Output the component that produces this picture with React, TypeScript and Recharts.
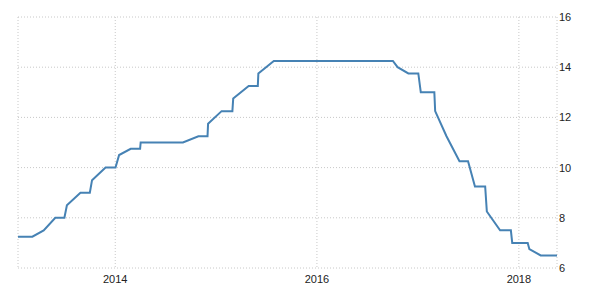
import React from "react";
import { LineChart, Line, XAxis, YAxis, CartesianGrid } from "recharts";

const dates: string[] = [
  "2013-01-14", "2013-03-07", "2013-04-17", "2013-05-29", "2013-07-01", "2013-07-10",
  "2013-08-28", "2013-10-01", "2013-10-09", "2013-11-27", "2014-01-02", "2014-01-15",
  "2014-02-26", "2014-04-01", "2014-04-03", "2014-09-03", "2014-10-29", "2014-12-01",
  "2014-12-03", "2015-01-21", "2015-03-01", "2015-03-04", "2015-04-29", "2015-06-01",
  "2015-06-03", "2015-07-29", "2016-10-02", "2016-10-19", "2016-11-27", "2017-01-02",
  "2017-01-11", "2017-03-01", "2017-03-04", "2017-04-14", "2017-05-31", "2017-07-01",
  "2017-07-26", "2017-09-01", "2017-09-07", "2017-10-25", "2017-12-03", "2017-12-08",
  "2018-02-02", "2018-02-08", "2018-03-21", "2018-05-19",
];

const rates: number[] = [
  7.25, 7.25, 7.5, 8.0, 8.0, 8.5,
  9.0, 9.0, 9.5, 10.0, 10.0, 10.5,
  10.75, 10.75, 11.0, 11.0, 11.25, 11.25,
  11.75, 12.25, 12.25, 12.75, 13.25, 13.25,
  13.75, 14.25, 14.25, 14.0, 13.75, 13.75,
  13.0, 13.0, 12.25, 11.25, 10.25, 10.25,
  9.25, 9.25, 8.25, 7.5, 7.5, 7.0,
  7.0, 6.75, 6.5, 6.5,
];

const xTickYears: number[] = [2014, 2016, 2018];
const yTicks: number[] = [6, 8, 10, 12, 14, 16];

const data = dates.map((d, i) => ({ t: Date.parse(d + "T00:00:00Z"), v: rates[i] }));
const xTicks = xTickYears.map((y) => Date.UTC(y, 0, 1));

const tickStyle = { fontFamily: "Arial, 'Liberation Sans', sans-serif", fontSize: 11, fill: "#222" };

export default function App() {
  return (
    <div style={{ position: "absolute", left: 0, top: 0 }}>
      <LineChart width={600} height={300} data={data} margin={{ top: 17, left: 18, right: 0, bottom: 0 }}>
        <CartesianGrid stroke="#c8c8c8" strokeDasharray="1 2" />
        <XAxis
          dataKey="t"
          type="number"
          scale="time"
          domain={["dataMin", "dataMax"]}
          ticks={xTicks}
          tickFormatter={(v: number) => String(new Date(v).getUTCFullYear())}
          axisLine={false}
          tickLine={false}
          tickSize={0}
          tickMargin={7}
          height={32}
          tick={tickStyle}
        />
        <YAxis
          orientation="right"
          domain={[6, 16]}
          ticks={yTicks}
          axisLine={false}
          tickLine={false}
          tickSize={0}
          tickMargin={2}
          width={43}
          tick={{ ...tickStyle, textAnchor: "start" }}
        />
        <Line
          type="linear"
          dataKey="v"
          stroke="#4682b4"
          strokeWidth={2}
          dot={false}
          isAnimationActive={false}
        />
      </LineChart>
    </div>
  );
}
